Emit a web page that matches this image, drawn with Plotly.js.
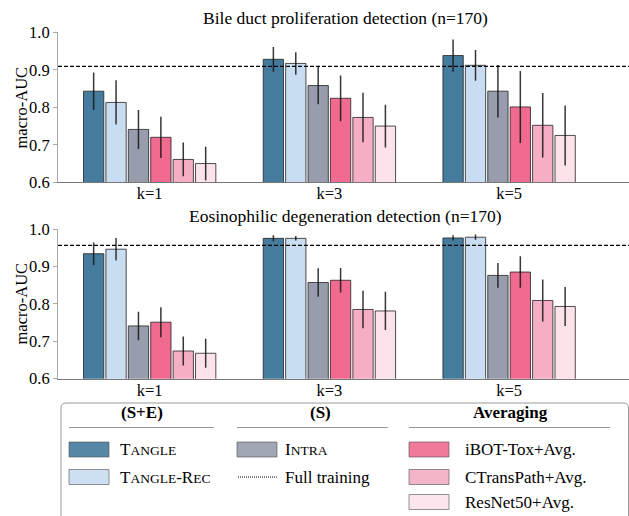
<!DOCTYPE html>
<html>
<head>
<meta charset="utf-8">
<script src="https://cdn.plot.ly/plotly-3.0.1.min.js"></script>
<style>html,body{margin:0;padding:0;background:#fff;}#chart{width:629px;height:516px;}</style>
</head>
<body>
<div id="chart"></div>
<script>
// ---- data ----
const categories = ['k=1', 'k=3', 'k=5'];
const methodNames = ['Tangle', 'Tangle-Rec', 'Intra', 'iBOT-Tox+Avg.', 'CTransPath+Avg.', 'ResNet50+Avg.'];
const yTickVals = [0.6, 0.7, 0.8, 0.9, 1.0];
const yTickText = ['0.6', '0.7', '0.8', '0.9', '1.0'];

// Bile duct proliferation detection
const bileTangle = [0.843, 0.928, 0.938];
const bileTangleRec = [0.813, 0.917, 0.912];
const bileIntra = [0.741, 0.858, 0.843];
const bileIbot = [0.720, 0.824, 0.801];
const bileCtrans = [0.661, 0.773, 0.752];
const bileResnet = [0.650, 0.750, 0.725];
const bileTangleErr = [0.050, 0.033, 0.043];
const bileTangleRecErr = [0.059, 0.030, 0.041];
const bileIntraErr = [0.052, 0.050, 0.070];
const bileIbotErr = [0.055, 0.061, 0.096];
const bileCtransErr = [0.045, 0.066, 0.086];
const bileResnetErr = [0.045, 0.057, 0.080];
const bileFull = 0.909;

// Eosinophilic degeneration detection
const eosTangle = [0.934, 0.975, 0.976];
const eosTangleRec = [0.946, 0.975, 0.978];
const eosIntra = [0.741, 0.857, 0.876];
const eosIbot = [0.751, 0.863, 0.885];
const eosCtrans = [0.674, 0.785, 0.809];
const eosResnet = [0.668, 0.781, 0.793];
const eosTangleErr = [0.030, 0.008, 0.007];
const eosTangleRecErr = [0.030, 0.006, 0.007];
const eosIntraErr = [0.038, 0.038, 0.033];
const eosIbotErr = [0.040, 0.033, 0.042];
const eosCtransErr = [0.039, 0.050, 0.056];
const eosResnetErr = [0.039, 0.051, 0.052];
const eosFull = 0.956;

// ---- styles ----
const colors = ['#457b9d', '#c8ddf1', '#979dad', '#f06b8f', '#f5aec3', '#fce3ea'];
const FONT = 'Liberation Serif, Times New Roman, serif';
const W = 629, H = 516;
const px = v => v / W;
const py = v => 1 - v / H;

const bileMeans = [bileTangle, bileTangleRec, bileIntra, bileIbot, bileCtrans, bileResnet];
const bileErrs = [bileTangleErr, bileTangleRecErr, bileIntraErr, bileIbotErr, bileCtransErr, bileResnetErr];
const eosMeans = [eosTangle, eosTangleRec, eosIntra, eosIbot, eosCtrans, eosResnet];
const eosErrs = [eosTangleErr, eosTangleRecErr, eosIntraErr, eosIbotErr, eosCtransErr, eosResnetErr];

function makeTraces(means, errs, xa, ya) {
  return means.map((m, i) => ({
    type: 'bar', x: categories, y: m, name: methodNames[i],
    xaxis: xa, yaxis: ya, showlegend: false,
    marker: { color: colors[i], line: { color: 'rgba(35,35,35,0.8)', width: 1 } },
    error_y: { type: 'data', array: errs[i], visible: true, color: 'rgba(20,20,20,0.85)', thickness: 1.5, width: 0 },
    base: 0
  }));
}

const traces = [].concat(makeTraces(bileMeans, bileErrs, 'x', 'y'), makeTraces(eosMeans, eosErrs, 'x2', 'y2'));

const xRange = [-0.51, 2.667];
function xAxis(anchor) {
  return {
    anchor: anchor, domain: [px(58), 1], range: xRange, type: 'category',
    showline: true, linecolor: '#777', linewidth: 1, showgrid: false, zeroline: false,
    ticks: '', ticklabelstandoff: -4, tickfont: { family: FONT, size: 16.5, color: '#000' }
  };
}
function yAxis(anchor, top, bottom) {
  return {
    anchor: anchor, domain: [py(bottom), py(top)], range: [0.6, 1.0],
    showline: true, linecolor: '#aaa', linewidth: 1, showgrid: false, zeroline: false,
    tickvals: yTickVals, ticktext: yTickText, ticks: 'outside', ticklen: 4, tickcolor: '#aaa',
    tickfont: { family: FONT, size: 16.5, color: '#000' }
  };
}

// legend geometry (pixels)
const lgTop = 403, lgLeft = 61, lgRight = 628.5, lgBottom = 530, r = 5;
const roundRect = `M ${px(lgLeft + r)} ${py(lgTop)} L ${px(lgRight - r)} ${py(lgTop)} Q ${px(lgRight)} ${py(lgTop)} ${px(lgRight)} ${py(lgTop + r)} L ${px(lgRight)} ${py(lgBottom)} L ${px(lgLeft)} ${py(lgBottom)} L ${px(lgLeft)} ${py(lgTop + r)} Q ${px(lgLeft)} ${py(lgTop)} ${px(lgLeft + r)} ${py(lgTop)} Z`;
const rows = [449.5, 477, 502];
const colSwatchX = [69, 237, 409];
const colTextX = [118, 283, 463];
const hdrY = 412, ulY = 427.5;

const shapes = [
  { type: 'line', xref: 'x domain', yref: 'y', x0: 0, x1: 1, y0: bileFull, y1: bileFull, line: { color: '#000', width: 1.2, dash: '4px,2px' } },
  { type: 'line', xref: 'x2 domain', yref: 'y2', x0: 0, x1: 1, y0: eosFull, y1: eosFull, line: { color: '#000', width: 1.2, dash: '4px,2px' } },
  { type: 'path', xref: 'paper', yref: 'paper', path: roundRect, line: { color: '#999', width: 1 }, fillcolor: 'rgba(255,255,255,0)' },
  // header underlines
  { type: 'line', xref: 'paper', yref: 'paper', x0: px(69), x1: px(214), y0: py(ulY), y1: py(ulY), line: { color: '#999', width: 1 } },
  { type: 'line', xref: 'paper', yref: 'paper', x0: px(237), x1: px(388), y0: py(ulY), y1: py(ulY), line: { color: '#999', width: 1 } },
  { type: 'line', xref: 'paper', yref: 'paper', x0: px(409), x1: px(610), y0: py(ulY), y1: py(ulY), line: { color: '#999', width: 1 } },
  // dotted line for full training
  { type: 'line', xref: 'paper', yref: 'paper', x0: px(238), x1: px(277), y0: py(rows[1]), y1: py(rows[1]), line: { color: '#000', width: 1, dash: '1px,1px' } }
];

// legend swatches: [column, row, color index]
const swatches = [[0, 0, 0], [0, 1, 1], [1, 0, 2], [2, 0, 3], [2, 1, 4], [2, 2, 5]];
swatches.forEach(s => {
  const x0 = colSwatchX[s[0]], yc = rows[s[1]];
  shapes.push({ type: 'rect', xref: 'paper', yref: 'paper', x0: px(x0), x1: px(x0 + 40), y0: py(yc - 7.5), y1: py(yc + 7.5),
    fillcolor: colors[s[2]], opacity: 0.9, line: { color: 'rgba(60,60,60,0.6)', width: 1 } });
});

const sc = t => `<span style="font-size:13.5px">${t}</span>`;
function ann(text, x, y, opts) {
  return Object.assign({ text: text, xref: 'paper', yref: 'paper', x: px(x), y: py(y), showarrow: false,
    font: { family: FONT, size: 17, color: '#000' }, xanchor: 'left', yanchor: 'middle' }, opts || {});
}
const hdrFont = { family: FONT, size: 17, color: '#000' };

const annotations = [
  ann('Bile duct proliferation detection (n=170)', 345, 18.5, { xanchor: 'center', font: { family: FONT, size: 17.5, color: '#000' } }),
  ann('Eosinophilic degeneration detection (n=170)', 345, 215.5, { xanchor: 'center', font: { family: FONT, size: 17.5, color: '#000' } }),
  ann('macro-AUC', 21, 107.5, { xanchor: 'center', textangle: -90, font: { family: FONT, size: 16.5, color: '#000' } }),
  ann('macro-AUC', 21, 303.5, { xanchor: 'center', textangle: -90, font: { family: FONT, size: 16.5, color: '#000' } }),
  ann('<b>(S+E)</b>', 141.5, hdrY, { xanchor: 'center', font: hdrFont }),
  ann('<b>(S)</b>', 320.5, hdrY, { xanchor: 'center', font: hdrFont }),
  ann('<b>Averaging</b>', 510, hdrY, { xanchor: 'center', font: hdrFont }),
  ann('T' + sc('ANGLE'), colTextX[0], rows[0]),
  ann('T' + sc('ANGLE') + '-R' + sc('EC'), colTextX[0], rows[1]),
  ann('I' + sc('NTRA'), colTextX[1], rows[0]),
  ann('Full training', colTextX[1], rows[1]),
  ann(methodNames[3], colTextX[2], rows[0]),
  ann(methodNames[4], colTextX[2], rows[1]),
  ann(methodNames[5], colTextX[2], rows[2])
];

const layout = {
  width: W, height: H,
  margin: { l: 0, r: 0, t: 0, b: 0 },
  paper_bgcolor: '#fff', plot_bgcolor: '#fff',
  barmode: 'group', bargap: 0.252, bargroupgap: 0.094,
  font: { family: FONT, size: 16, color: '#000' },
  xaxis: xAxis('y'), yaxis: yAxis('x', 32.3, 182.3),
  xaxis2: xAxis('y2'), yaxis2: yAxis('x2', 229, 378.7),
  shapes: shapes, annotations: annotations, showlegend: false
};

Plotly.newPlot('chart', traces, layout, { displayModeBar: false, staticPlot: true });
</script>
</body>
</html>
